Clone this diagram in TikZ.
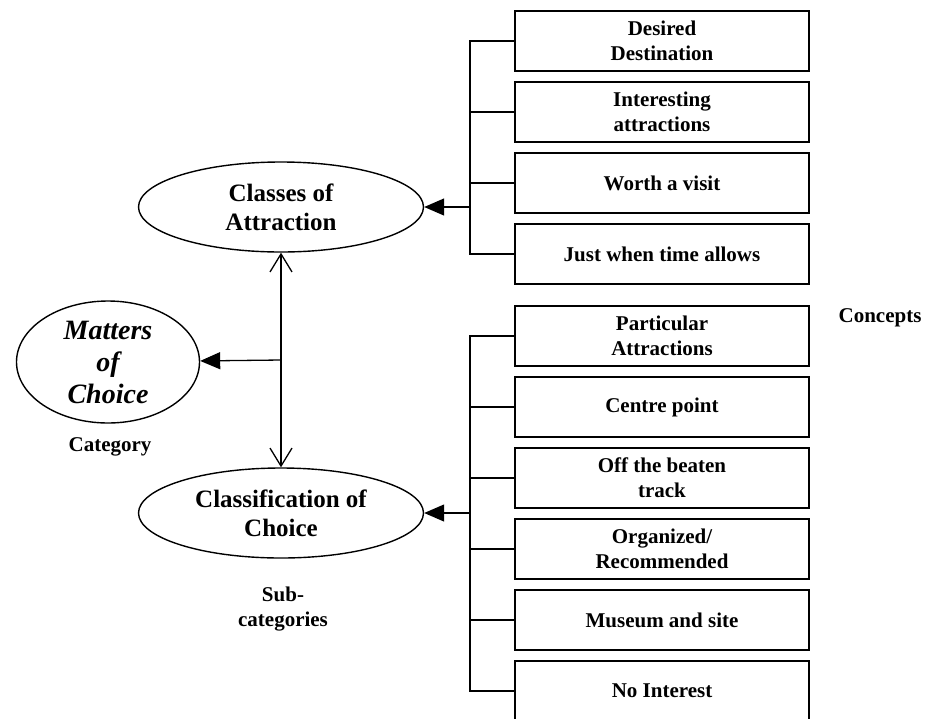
\documentclass[tikz,border=0pt]{standalone}
\usepackage{fontspec}
\setmainfont{Liberation Serif}
\usetikzlibrary{positioning, arrows.meta, calc, shapes.geometric}

\begin{document}
\begin{tikzpicture}[x=1pt, y=-1pt,
        block/.style={draw, rectangle, line width=1.4pt, minimum width=294pt, minimum height=60pt, align=center, inner sep=0pt, font=\fontsize{21}{25}\selectfont\bfseries},
        oval/.style={draw, ellipse, line width=1.4pt, minimum width=285pt, minimum height=90pt, align=center, inner sep=0pt, font=\fontsize{25}{29}\selectfont\bfseries},
        lbl/.style={align=center, font=\fontsize{21}{25}\selectfont\bfseries},
        node distance=9.6pt, line width=1.3pt]
        
        \useasboundingbox (0,0) rectangle (928,718);
        
        % Categoria e subcategorias
        \node (moc) [oval, minimum width=183pt, minimum height=122pt, font=\fontsize{28}{32}\selectfont\bfseries\itshape] at (108,362) {Matters\\of\\Choice};
        \node (cls) [oval] at (281,207) {Classes of\\Attraction};
        \node (clf) [oval] at (281,513) {Classification of\\Choice};
        
        % Conceitos (grupo de cima)
        \node (d1) [block] at (662,41) {Desired\\Destination};
        \node (d2) [block, below=of d1] {Interesting\\attractions};
        \node (d3) [block, below=of d2] {Worth a visit};
        \node (d4) [block, below=of d3] {Just when time allows};
        
        % Conceitos (grupo de baixo)
        \node (p1) [block] at (662,336) {Particular\\Attractions};
        \node (p2) [block, below=of p1] {Centre point};
        \node (p3) [block, below=of p2] {Off the beaten\\track};
        \node (p4) [block, below=of p3] {Organized/\\Recommended};
        \node (p5) [block, below=of p4] {Museum and site};
        \node (p6) [block, below=of p5] {No Interest};
        
        % Rótulos
        \node (cat) [lbl] at (110,447) {Category};
        \node (sub) [lbl] at (283,609) {Sub-\\categories};
        \node (con) [lbl] at (880,318) {Concepts};
        
        % Chaves
        \coordinate (s1) at (470,207);
        \coordinate (s2) at (470,513);
        \draw (d1.west) -| (s1);
        \draw (d2.west) -| (s1);
        \draw (d3.west) -| (s1);
        \draw (d4.west) -| (s1);
        \draw (p1.west) -| (s2);
        \draw (p2.west) -| (s2);
        \draw (p3.west) -| (s2);
        \draw (p4.west) -| (s2);
        \draw (p5.west) -| (s2);
        \draw (p6.west) -| (s2);
        
        % Conexões
        \draw[-{Triangle[length=20pt, width=17pt]}] (s1) -- (cls);
        \draw[-{Triangle[length=20pt, width=17pt]}] (s2) -- (clf);
        \draw[{Straight Barb[length=18pt, width=22pt]}-{Straight Barb[length=18pt, width=22pt]}] (cls.south) -- (clf.north);
        \coordinate (mid) at ($(cls.south)!0.5!(clf.north)$);
        \draw[-{Triangle[length=20pt, width=17pt]}] (mid) -- (moc);

    \end{tikzpicture}
\end{document}
